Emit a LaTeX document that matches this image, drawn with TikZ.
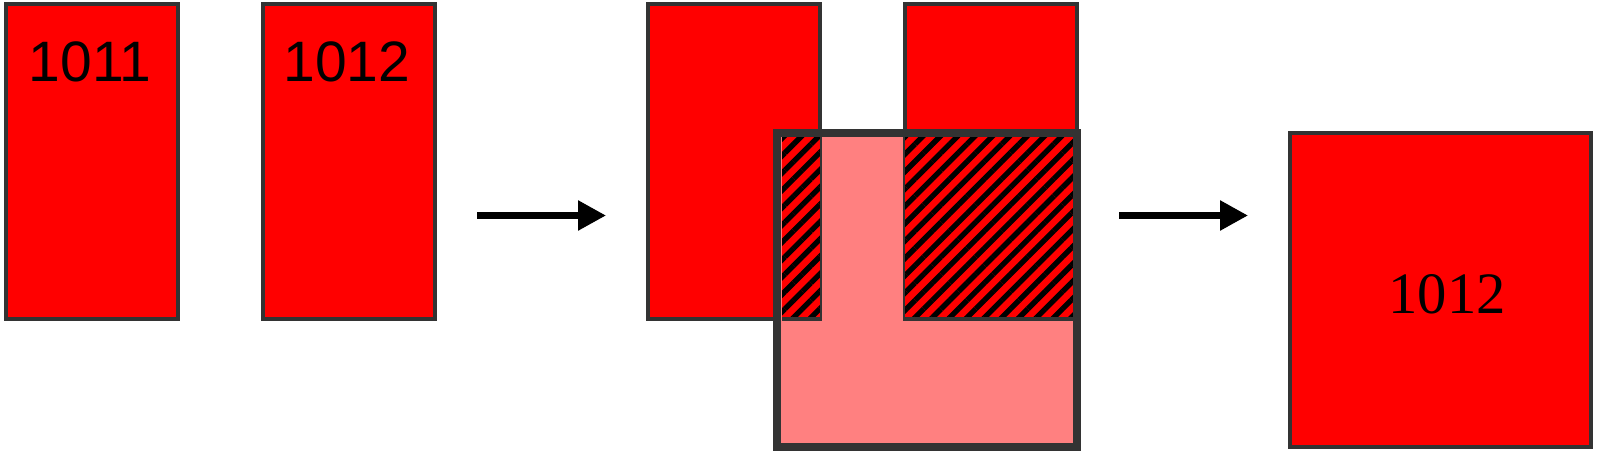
\documentclass[tikz,border=0pt]{standalone}
\usepackage{fontspec}
\newfontfamily\arialf{Liberation Sans}
\newfontfamily\timesf{Liberation Serif}
\usetikzlibrary{arrows.meta,patterns.meta}
\definecolor{bord}{HTML}{333333}
\definecolor{pinkf}{HTML}{FF8080}
\begin{document}
\begin{tikzpicture}[x=0.75pt,y=-0.75pt,
  redbox/.style={draw=bord, fill=red, line width=3pt, minimum width=129pt, minimum height=236.25pt, inner sep=0pt, outer sep=0pt},
  bigbox/.style={draw=bord, line width=6pt, minimum width=225pt, minimum height=235.5pt, inner sep=0pt, outer sep=0pt},
  finalbox/.style={draw=bord, fill=red, line width=3.4pt, minimum width=225.75pt, minimum height=235.5pt, inner sep=0pt, outer sep=0pt},
  hatchbg/.style={fill=red},
  hatch/.style={pattern={Lines[angle=45,distance=9.2pt,line width=4pt]}, pattern color=black},
  edge/.style={draw=bord, line width=1.5pt},
  edgeb/.style={draw=bord, line width=3pt},
  arr/.style={line width=4.9pt, -{Triangle[length=21pt,width=21.5pt]}},
  sanslbl/.style={font=\arialf\fontsize{42.75}{50}\selectfont, inner sep=0pt},
  seriflbl/.style={font=\timesf\fontsize{44}{52}\selectfont, inner sep=0pt}]
\useasboundingbox (0,0) rectangle (1599,452);
% left pair
\node[redbox] (b1) at (92,161.5) {};
\node[redbox] (b2) at (349,161.5) {};
\node[sanslbl] (t1) at (90,61.5) {1011};
\node[sanslbl] (t2) at (347,61.5) {1012};
% middle
\node[redbox] (b3) at (734,161.5) {};
\node[redbox] (b4) at (991,161.5) {};
\fill[pinkf] (781,137) rectangle (1073,443);
\path[hatchbg] (782,137) rectangle (820,317);
\path[hatchbg] (905,137) rectangle (1073,317);
\path[hatch] (782,137) rectangle (820,317);
\path[hatch] (905,137) rectangle (1073,317);
\draw[edge] (821,137) -- (821,319);
\draw[edge] (904,137) -- (904,319);
\draw[edgeb] (782,319) -- (822,319);
\draw[edgeb] (903,319) -- (1073,319);
\node[bigbox] (big) at (927,290) {};
% right
\node[finalbox] (b5) at (1440.5,290) {};
\node[seriflbl] (t5) at (1447,294) {1012};
% arrows
\coordinate (a1s) at (477,215.5);
\coordinate (a1e) at (606,215.5);
\coordinate (a2s) at (1119,215.5);
\coordinate (a2e) at (1248,215.5);
\draw[arr] (a1s) -- (a1e);
\draw[arr] (a2s) -- (a2e);
\end{tikzpicture}
\end{document}
